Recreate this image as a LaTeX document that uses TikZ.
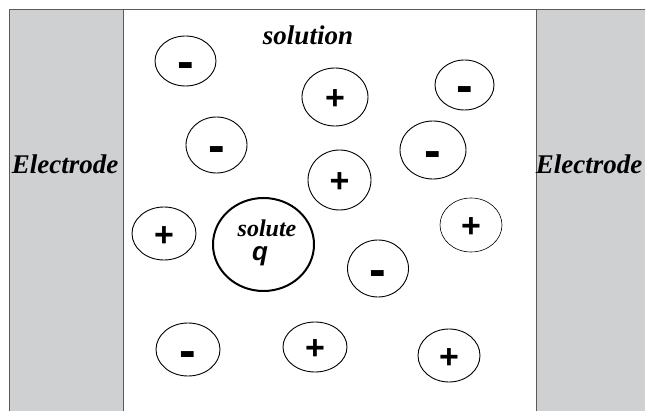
\documentclass[tikz,border=0pt]{standalone}
\usepackage{fontspec}
\setmainfont{Liberation Serif}
\newfontfamily\signfont{Liberation Sans}
\usetikzlibrary{shapes.geometric}

\definecolor{electrodegray}{HTML}{CFD0D2}
\definecolor{edgegray}{HTML}{5A5A5A}

\newcommand{\plussign}{\raisebox{-12.8pt}[0pt][0pt]{+}}
\newcommand{\minussign}{\raisebox{-18pt}[0pt][0pt]{-}}

\begin{document}
\begin{tikzpicture}[x=1pt,y=-1pt,
    ion/.style={draw, ellipse, inner sep=0pt, line width=0.9pt},
    plusion/.style={font=\signfont\bfseries\fontsize{34}{34}\selectfont},
    minusion/.style={font=\signfont\bfseries\fontsize{50}{50}\selectfont},
    title/.style={font=\bfseries\itshape\fontsize{27}{30}\selectfont, inner sep=0pt, anchor=base}]
        \useasboundingbox (0,0) rectangle (645,411);

        % Electrodes and container
        \fill[electrodegray] (9,10) rectangle (123,420);
        \fill[electrodegray] (536,10) rectangle (660,420);
        \draw[edgegray, line width=1pt] (9,420) -- (9,10) -- (660,10);
        \draw[edgegray, line width=1pt] (123,10) -- (123,420);
        \draw[edgegray, line width=1pt] (536,10) -- (536,420);

        \node[title] (leftel) at (65,174) {Electrode};
        \node[title] (rightel) at (589,174) {Electrode};
        \node[title] (soln) at (308,45) {solution};

        % Negative ions
        \node[ion, minusion, minimum width=61, minimum height=50] (neg1) at (185.5,61) {\minussign};
        \node[ion, minusion, minimum width=59, minimum height=50] (neg2) at (464.5,85) {\minussign};
        \node[ion, minusion, minimum width=61, minimum height=56] (neg3) at (216.5,145) {\minussign};
        \node[ion, minusion, minimum width=66, minimum height=58] (neg4) at (433,150) {\minussign};
        \node[ion, minusion, minimum width=61, minimum height=57] (neg5) at (378,268.5) {\minussign};
        \node[ion, minusion, minimum width=64, minimum height=53] (neg6) at (188,349.5) {\minussign};

        % Positive ions
        \node[ion, plusion, minimum width=66, minimum height=58] (pos1) at (335,97) {\plussign};
        \node[ion, plusion, minimum width=63, minimum height=60] (pos2) at (339.5,180) {\plussign};
        \node[ion, plusion, minimum width=64, minimum height=53] (pos3) at (164,233.5) {\plussign};
        \node[ion, plusion, line width=0.6pt, minimum width=62, minimum height=54] (pos4) at (471,225) {\plussign};
        \node[ion, plusion, minimum width=64, minimum height=50] (pos5) at (315,347) {\plussign};
        \node[ion, plusion, minimum width=62, minimum height=53] (pos6) at (449,355.5) {\plussign};

        % Solute
        \node[ion, line width=2pt, minimum width=101, minimum height=93] (solute) at (263.5,244.5) {};
        \node[title, font=\bfseries\itshape\fontsize{24}{28}\selectfont] (solutetxt) at (267,236.5) {solute};
        \node[inner sep=0pt, anchor=base, font=\signfont\bfseries\itshape\fontsize{26}{28}\selectfont] (charge) at (260,260.5) {q};
    \end{tikzpicture}
\end{document}
